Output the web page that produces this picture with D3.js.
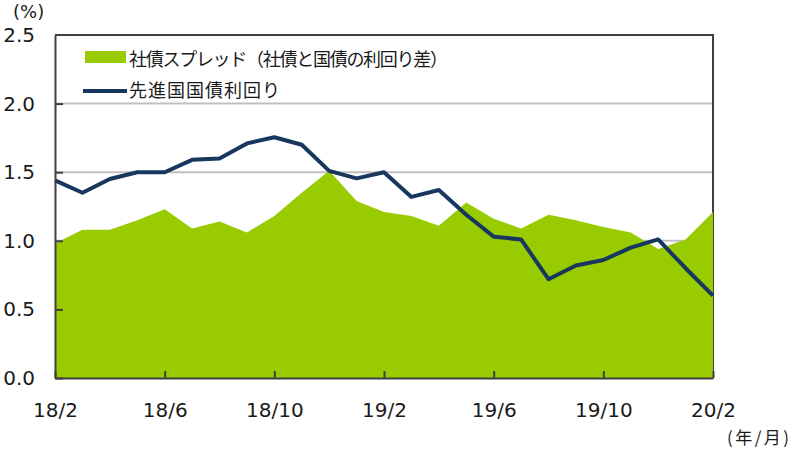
<!DOCTYPE html>
<html>
<head>
<meta charset="utf-8">
<script src="https://cdn.jsdelivr.net/npm/d3@7"></script>
<style>
  body { margin: 0; background: #fff; }
  svg { display: block; }
</style>
</head>
<body>
<div id="chart"></div>
<script>
// 月ラベル（18/2〜20/2）
const months = [
  "18/2", "18/3", "18/4", "18/5", "18/6", "18/7", "18/8", "18/9", "18/10", "18/11", "18/12",
  "19/1", "19/2", "19/3", "19/4", "19/5", "19/6", "19/7", "19/8", "19/9", "19/10", "19/11", "19/12",
  "20/1", "20/2"
];
const xTickLabels = ["18/2", "18/6", "18/10", "19/2", "19/6", "19/10", "20/2"];
const yTickValues = [0, 0.5, 1.0, 1.5, 2.0, 2.5];

// 社債スプレッド（社債と国債の利回り差）
const spread = [0.98, 1.08, 1.08, 1.15, 1.23, 1.09, 1.14, 1.06, 1.18, 1.35, 1.51, 1.29, 1.21,
  1.18, 1.11, 1.28, 1.16, 1.09, 1.19, 1.15, 1.10, 1.06, 0.94, 1.01, 1.21];
// 先進国国債利回り
const yieldRate = [1.44, 1.35, 1.45, 1.50, 1.50, 1.59, 1.60, 1.71, 1.755, 1.70, 1.51, 1.455, 1.50,
  1.32, 1.37, 1.19, 1.03, 1.01, 0.72, 0.82, 0.86, 0.95, 1.01, 0.80, 0.60];

const legendLabels = ["社債スプレッド（社債と国債の利回り差）", "先進国国債利回り"];
const legendWidths = [319, 151];

const W = 792, H = 449;
const margin = { top: 35, right: 79, bottom: 70, left: 55 };
const green = "#99CC00";
const navy = "#17375E";
const axisColor = "#404040";
const latin = "'DejaVu Sans', Verdana, sans-serif";
const cjk = "'Noto Sans CJK JP', sans-serif";

const svg = d3.select("#chart").append("svg")
  .attr("width", W)
  .attr("height", H);

const x = d3.scalePoint()
  .domain(months)
  .range([margin.left, W - margin.right])
  .padding(0);

const y = d3.scaleLinear()
  .domain([0, 2.5])
  .range([H - margin.bottom - 1, margin.top]);

// グリッドライン
svg.append("g")
  .selectAll("line")
  .data(yTickValues.filter(d => d > 0 && d < 2.5))
  .enter()
  .append("line")
  .attr("x1", margin.left)
  .attr("x2", W - margin.right)
  .attr("y1", d => y(d))
  .attr("y2", d => y(d))
  .attr("stroke", "#BFBFBF")
  .attr("stroke-width", 2);

// 枠（上・右）
svg.append("path")
  .attr("d", `M${margin.left},${y(2.5)}H${W - margin.right}V${y(0)}`)
  .attr("fill", "none")
  .attr("stroke", axisColor)
  .attr("stroke-width", 2);

// 面グラフ
const area = d3.area()
  .x((d, i) => x(months[i]))
  .y0(y(0))
  .y1(d => y(d));

svg.append("path")
  .datum(spread)
  .attr("d", area)
  .attr("fill", green);

// 折れ線
const line = d3.line()
  .x((d, i) => x(months[i]))
  .y(d => y(d));

svg.append("path")
  .datum(yieldRate)
  .attr("d", line)
  .attr("fill", "none")
  .attr("stroke", navy)
  .attr("stroke-width", 4)
  .attr("stroke-linejoin", "round");

// x軸
const xAxis = svg.append("g")
  .attr("transform", `translate(0,${y(0)})`)
  .call(d3.axisBottom(x)
    .tickValues(xTickLabels)
    .tickSizeInner(-7)
    .tickSizeOuter(0)
    .tickPadding(25));

// y軸
const yAxis = svg.append("g")
  .attr("transform", `translate(${margin.left},0)`)
  .call(d3.axisLeft(y)
    .tickValues(yTickValues)
    .tickFormat(d3.format(".1f"))
    .tickSizeInner(-8)
    .tickSizeOuter(0)
    .tickPadding(20));

[xAxis, yAxis].forEach(ax => {
  ax.select(".domain").attr("stroke", axisColor).attr("stroke-width", 2);
  ax.selectAll(".tick line").attr("stroke", axisColor).attr("stroke-width", 2);
  ax.selectAll(".tick text")
    .attr("fill", "#1a1a1a")
    .style("font-family", latin)
    .style("font-size", "20px");
});
yAxis.selectAll(".tick").filter(d => d === 2.5).select("line").remove();

// 単位
svg.append("text")
  .attr("x", 13)
  .attr("y", 18)
  .style("font-family", latin)
  .style("font-size", "18px")
  .attr("fill", "#1a1a1a")
  .text("(%)");

svg.append("text")
  .attr("x", 727)
  .attr("y", 444)
  .attr("textLength", 62)
  .attr("lengthAdjust", "spacing")
  .style("font-family", cjk)
  .style("font-size", "17px")
  .attr("fill", "#1a1a1a")
  .text("(年/月)");

// 凡例
const legend = svg.append("g");
legend.append("rect")
  .attr("x", 85)
  .attr("y", 51)
  .attr("width", 41)
  .attr("height", 12)
  .attr("fill", green);
legend.append("line")
  .attr("x1", 83)
  .attr("x2", 127)
  .attr("y1", 91)
  .attr("y2", 91)
  .attr("stroke", navy)
  .attr("stroke-width", 4);
legend.selectAll("text")
  .data(legendLabels)
  .enter()
  .append("text")
  .attr("x", 129)
  .attr("y", (d, i) => 58 + i * 31)
  .attr("dominant-baseline", "central")
  .attr("textLength", (d, i) => legendWidths[i])
  .attr("lengthAdjust", "spacing")
  .style("font-family", cjk)
  .style("font-size", "18px")
  .attr("fill", "#1a1a1a")
  .text(d => d);
</script>
</body>
</html>
